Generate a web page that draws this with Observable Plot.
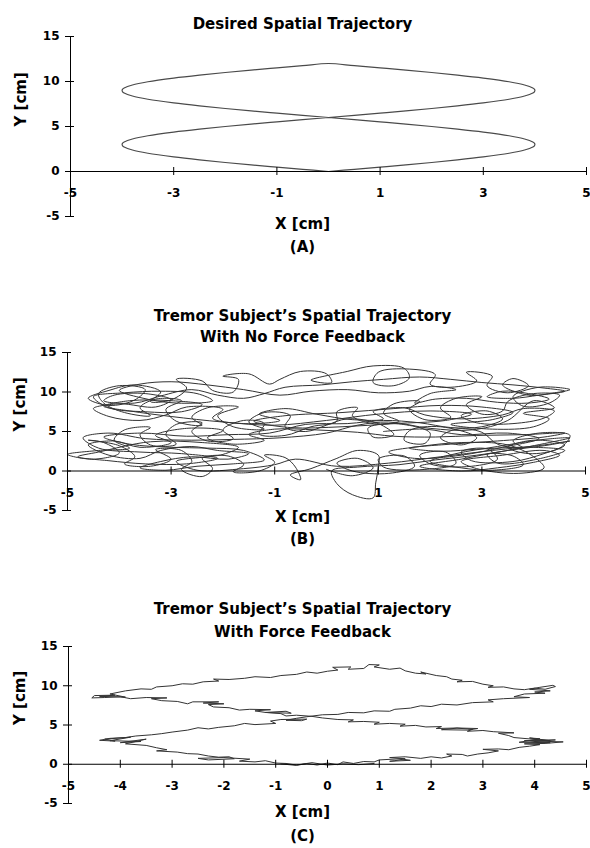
<!DOCTYPE html>
<html><head><meta charset="utf-8">
<script src="https://cdn.jsdelivr.net/npm/d3@7"></script>
<script src="https://cdn.jsdelivr.net/npm/@observablehq/plot@0.6"></script>
<style>
body{margin:0;background:#fff;}
#chart{width:590px;height:848px;overflow:hidden;}
#chart svg{display:block;}
</style></head><body><div id="chart"></div>
<script>
// ---- tick values ----
const xTicksA = [-5, -3, -1, 1, 3, 5];
const xTicksB = [-5, -3, -1, 1, 3, 5];
const xTicksC = [-5, -4, -3, -2, -1, 0, 1, 2, 3, 4, 5];
const yTicks = [-5, 0, 5, 10, 15];

// ---- texts ----
const titleA = ["Desired Spatial Trajectory"];
const titleB = ["Tremor Subject’s Spatial Trajectory", "With No Force Feedback"];
const titleC = ["Tremor Subject’s Spatial Trajectory", "With Force Feedback"];
const xLabel = "X [cm]";
const yLabel = "Y [cm]";
const tags = ["(A)", "(B)", "(C)"];

// ---- (A) desired trajectory, [x, y] in cm ----
const pathA = [
  [0,0],[0.5,0.24],[1,0.48],[1.5,0.73],[2,1.0],[2.5,1.29],[3,1.62],[3.5,2.03],[3.8,2.39],[3.96,2.73],[3.99,2.86],[4,3],
  [3.99,3.14],[3.96,3.27],[3.8,3.61],[3.5,3.97],[3,4.38],[2.5,4.71],[2,5.0],[1.5,5.27],[1,5.52],[0.5,5.76],[0,6],
  [-0.5,6.24],[-1,6.48],[-1.5,6.73],[-2,7.0],[-2.5,7.29],[-3,7.62],[-3.5,8.03],[-3.8,8.39],[-3.96,8.73],[-3.99,8.86],[-4,9],
  [-3.99,9.14],[-3.96,9.27],[-3.8,9.61],[-3.5,9.97],[-3,10.38],[-2.5,10.71],[-2,11.0],[-1.5,11.27],[-1,11.52],[-0.5,11.76],[0,12],
  [0.5,11.76],[1,11.52],[1.5,11.27],[2,11.0],[2.5,10.71],[3,10.38],[3.5,9.97],[3.8,9.61],[3.96,9.27],[3.99,9.14],[4,9],
  [3.99,8.86],[3.96,8.73],[3.8,8.39],[3.5,8.03],[3,7.62],[2.5,7.29],[2,7.0],[1.5,6.73],[1,6.48],[0.5,6.24],[0,6],
  [-0.5,5.76],[-1,5.52],[-1.5,5.27],[-2,5.0],[-2.5,4.71],[-3,4.38],[-3.5,3.97],[-3.8,3.61],[-3.96,3.27],[-3.99,3.14],[-4,3],
  [-3.99,2.86],[-3.96,2.73],[-3.8,2.39],[-3.5,2.03],[-3,1.62],[-2.5,1.29],[-2,1.0],[-1.5,0.73],[-1,0.48],[-0.5,0.24],[0,0]
];

// ---- (B) tremor, no force feedback ----
const pathB = [
  [0.0,0.2],[0.5,-0.6],[0.9,0.4],[0.6,1.6],[0.2,1.0],[0.5,0.0],[1.2,-0.3],[1.7,0.6],[1.5,1.9],[1.0,1.5],[1.1,0.5],[1.9,0.2],[2.5,1.0],[2.3,2.4],[1.8,2.0],[2.0,0.9],[2.8,0.6],[3.3,1.5],[3.1,2.8],[2.6,2.4],[2.8,1.3],[3.6,1.2],[4.2,2.2],[4.6,3.3],[4.0,3.9],[3.5,3.0],[3.9,2.2],[4.5,2.9],[4.7,4.5],
  [4.1,4.8],[3.6,3.8],[3.8,2.9],[3.3,3.4],[3.0,4.9],[2.5,5.3],[2.2,4.2],[2.6,3.3],[2.9,4.2],[2.2,5.6],[1.6,5.1],[1.5,3.9],[1.9,3.5],[2.0,4.8],[1.3,6.0],[0.8,5.4],[0.9,4.3],[1.3,4.6],[1.0,6.0],[0.4,6.6],[0.0,5.8],
  [-0.4,5.0],[-0.8,5.6],[-0.7,7.0],[-1.2,7.4],[-1.5,6.2],[-1.2,5.3],[-1.8,5.6],[-2.1,7.0],[-1.7,8.1],[-2.3,8.0],[-2.6,6.8],[-2.4,5.8],[-2.9,6.3],[-3.1,7.8],[-2.8,8.9],[-3.3,9.1],[-3.6,8.0],[-3.4,7.0],[-3.9,7.4],[-4.3,8.6],[-4.4,9.8],[-4.0,10.8],[-3.5,10.3],[-3.7,9.0],[-4.2,8.3],[-4.6,9.2],[-4.2,10.2],
  [-3.7,10.9],[-3.2,10.0],[-3.4,8.8],[-3.0,9.0],[-2.7,10.5],[-2.9,11.6],[-2.4,11.4],[-2.2,10.2],[-1.8,10.0],[-1.7,11.6],[-2.0,12.0],[-1.5,12.3],[-1.1,11.0],[-0.9,11.6],[-0.5,12.6],[0.0,12.3],[0.1,11.2],[-0.3,11.5],[0.4,12.6],[0.9,13.3],[1.5,13.0],[1.6,11.8],[1.3,10.8],[0.9,11.2],[1.0,12.5],[1.6,12.9],[2.1,12.2],[2.0,11.0],[2.4,10.6],[2.9,11.4],[2.7,12.5],[3.2,12.0],
  [3.1,10.8],[3.5,9.9],[3.9,10.8],[3.6,11.7],[3.4,10.9],[3.9,9.6],[4.4,9.9],[4.7,10.3],[4.1,10.6],[3.6,9.4],[3.8,8.2],[4.3,8.6],[4.5,9.6],[4.0,9.8],
  [3.5,8.8],[3.4,7.6],[3.0,7.2],[2.7,8.4],[3.0,9.4],[2.5,9.2],[2.2,8.0],[2.4,6.8],[1.9,6.5],[1.6,7.8],[1.8,8.8],[1.3,8.5],[1.1,7.3],[1.4,6.3],[0.9,6.0],[0.5,7.0],[0.6,8.0],[0.2,7.5],[0.2,6.3],
  [-0.3,5.6],[-0.8,4.5],[-1.3,4.7],[-1.2,6.0],[-1.6,6.4],[-2.0,5.2],[-1.8,4.1],[-2.3,3.8],[-2.6,5.0],[-2.4,6.1],[-2.9,5.9],[-3.1,4.6],[-2.9,3.4],[-3.4,3.3],[-3.6,4.6],[-3.4,5.5],[-3.9,5.2],[-4.1,3.9],[-3.8,2.9],[-4.4,2.6],[-5.0,2.1],[-4.5,1.5],[-4.0,2.3],[-4.3,3.6],[-4.6,3.9],
  [-4.0,3.2],[-3.7,1.8],[-3.9,0.9],[-3.4,0.6],[-3.0,1.5],[-3.3,2.7],[-2.8,2.6],[-2.6,1.2],[-2.8,0.2],[-2.4,-0.7],[-2.2,0.3],[-2.4,1.6],[-1.9,1.9],[-1.6,0.8],[-1.8,-0.1],[-1.3,0.0],[-1.0,1.1],[-1.2,2.0],[-0.8,1.7],[-0.6,0.5],[-0.5,-1.1],[-0.7,-0.5],[-0.3,0.3],
  [0.2,1.6],[0.6,2.6],[1.0,2.0],[1.0,0.5],[0.95,-1.5],[0.9,-3.4],[0.5,-3.0],[0.2,-1.6],[0.1,0.0],[0.6,0.5],
  [1.4,0.8],[2.1,1.4],[2.9,2.0],[3.5,2.6],[4.3,3.6],[4.7,4.2],[4.2,4.0],[3.3,3.1],[2.5,2.2],[2.0,1.2],[2.6,0.4],[3.2,0.1],[3.8,0.8],[3.6,1.9],[3.1,2.1],[3.3,1.0],[4.0,1.4],[4.6,2.6],[4.0,3.0],[3.0,2.8],[2.2,2.5],[1.6,2.9],[2.4,3.4],[3.3,3.8],[4.2,4.3],[4.6,4.8],[3.8,4.6],[2.9,4.5],[2.1,4.3],
  [1.3,4.4],[0.6,4.9],[-0.2,5.2],[-1.0,5.3],[-1.5,4.6],[-1.2,3.9],[-1.8,3.4],[-2.3,4.2],[-2.0,5.1],[-2.7,5.4],[-3.3,4.5],[-3.0,3.6],[-3.6,3.0],[-4.1,3.8],[-4.6,3.3],[-4.2,2.0],[-3.6,1.6],[-3.2,2.6],[-2.6,3.1],[-2.1,2.6],[-1.5,2.2],[-1.9,1.5],[-2.6,1.8],[-3.2,1.2],[-3.6,0.4],[-3.1,0.1],[-2.5,0.6],[-1.8,0.9],[-1.2,1.4],[-1.6,2.6],[-2.3,2.9],[-3.0,3.0],[-3.8,3.4],[-4.3,4.3],[-3.6,4.8],[-2.7,4.4],[-1.9,4.6],[-1.1,4.8],
  [-0.4,5.9],[0.4,6.0],[1.1,6.4],[1.8,6.1],[2.4,5.5],[3.0,5.6],[3.4,6.6],[3.1,7.6],[2.6,7.0],[2.9,6.1],[3.6,6.0],[4.2,6.7],[4.4,7.6],[3.8,7.9],[3.4,7.1],[2.6,6.6],[1.9,7.1],[1.5,8.0],[0.9,7.5],[1.1,6.6],[0.5,6.5],[-0.2,7.2],[-0.8,7.9],[-1.3,7.2],[-0.9,6.4],[-1.6,6.0],[-2.2,6.7],[-2.0,7.8],[-2.7,8.1],[-3.1,7.1],[-3.6,6.4],[-4.2,6.9],[-4.5,7.9],[-4.0,8.5],[-3.3,8.1],
  [-3.0,9.0],[-3.5,9.8],[-4.1,9.6],[-4.3,8.9],[-3.7,8.6],[-3.2,9.5],[-2.6,10.3],[-2.1,9.6],[-1.6,9.2],[-1.2,9.8],[-0.8,10.6],[-0.1,10.9],[0.5,11.3],[1.1,11.6],[1.8,11.9],[2.4,11.6],[3.0,11.2],[3.6,10.9],[4.2,10.5],[4.6,10.1],[4.1,9.6],[3.6,9.2],[3.1,9.4],[3.4,10.1],[3.9,9.8],[4.3,9.1],[3.9,8.6],[3.3,8.7],[2.7,9.2],[2.1,9.1],[1.7,8.6],[2.0,9.8],[2.5,10.3],[2.0,10.7],[1.6,10.1],
  [1.0,9.9],[0.4,10.3],[-0.3,10.1],[-0.9,9.6],[-1.6,10.3],[-2.3,10.9],[-3.0,11.3],[-3.6,11.0],[-4.0,10.2],[-3.6,9.3],[-2.9,8.6],[-2.2,8.9],[-2.5,9.8],[-3.2,10.1],[-3.9,9.9],[-4.5,9.4],[-4.2,8.0],[-3.5,7.5],[-2.8,7.5],[-2.4,8.4],[-3.0,8.9],[-3.8,8.9],[-4.3,8.2],[-3.8,7.6],
  [-3.0,6.9],[-2.0,6.2],[-1.0,5.8],[0.0,6.4],[1.0,7.2],[2.0,7.6],[2.8,7.2],[2.3,6.4],[1.3,6.0],[0.3,5.6],[-0.7,5.5],[-1.4,6.3],[-0.8,7.0],[0.3,7.4],[1.3,7.9],[2.2,8.3],[3.0,8.1],[3.6,7.4],[3.2,6.5],[2.4,5.9],[3.2,5.3],[4.0,5.6],[4.3,6.6],[3.8,7.3],[4.4,8.0],[4.0,8.9],
  [3.5,6.4],[2.8,5.2],[2.0,5.4],[1.2,6.2],[0.6,5.8],[0.0,4.8],[-0.9,4.2],[-1.8,4.0],[-2.6,3.9],[-3.5,4.1],[-4.2,4.8],[-4.7,4.2],[-4.4,2.9],[-3.6,2.4],[-2.8,2.2],[-2.1,1.6],[-2.7,0.9],[-3.5,0.9],[-4.2,1.3],[-4.8,1.8],[-4.4,2.4],[-3.4,3.7],[-2.4,3.6],[-1.7,3.0],[-2.0,2.1],[-2.9,1.2],[-2.5,0.1],[-1.6,0.3],[-1.0,0.8],[-0.6,1.5],
  [0.2,0.6],[1.2,1.0],[2.2,1.8],[3.2,2.6],[4.2,3.3],[4.7,3.8],[4.3,3.3],[3.4,2.5],[2.6,1.5],[1.8,0.6],[2.6,0.0],[3.3,0.4],[4.0,1.1],[4.5,2.0],[4.2,2.6],[3.4,2.0],[2.6,1.2],[2.9,0.3],[3.7,-0.3],[4.2,0.4],[4.0,1.8],[3.5,3.3],[2.6,3.6],[1.8,3.1],[1.2,2.4],[1.7,1.6],[2.6,2.0],[3.4,3.0],[4.1,4.1],[3.5,4.8],[2.6,4.6],[1.9,5.3],[1.1,5.0]
];

// ---- (C) tremor, with force feedback ----
const pathC = [
  [-0.9,0.05],[-0.6,-0.15],[-0.4,0.1],[-0.2,-0.1],[0.0,0.15],[0.2,-0.05],[0.3,0.3],[0.5,0.1],[0.7,0.35],[0.9,0.3],[1.0,0.55],[1.4,0.7],[1.6,0.5],[1.2,0.38],[1.3,0.45],[1.5,0.7],[1.2,0.85],[1.5,0.95],[1.8,0.75],[2.0,0.95],[2.2,0.8],[2.4,1.05],[2.3,1.3],[2.6,1.25],[2.7,1.05],[2.9,1.3],[3.1,1.45],[3.3,1.7],[3.0,1.9],[3.3,1.95],[3.5,1.85],[3.7,2.15],[3.9,2.3],[4.1,2.5],[3.8,2.6],[4.2,2.65],[4.55,2.85],
  [4.0,2.95],[4.4,3.1],[3.8,3.0],[4.3,2.75],[3.7,2.8],[4.1,3.25],[3.9,3.35],[4.3,3.0],[3.6,3.4],
  [3.5,3.65],[3.3,3.95],[3.6,4.0],[3.2,4.15],[3.0,4.3],[2.7,4.2],[2.8,4.45],[2.5,4.6],[2.2,4.4],[2.7,4.35],[2.9,4.55],[2.5,4.62],[2.1,4.55],[2.2,4.8],[1.9,4.75],[1.7,4.95],[1.4,4.85],[1.5,5.1],[1.2,5.2],[0.9,5.1],[1.0,5.35],[0.7,5.45],[0.4,5.4],[0.5,5.65],[0.2,5.7],[-0.1,5.9],[-0.3,6.1],
  [-0.6,6.25],[-0.8,6.15],[-0.9,6.45],[-1.2,6.6],[-0.8,6.75],[-0.7,6.5],[-1.2,6.6],[-1.4,6.8],[-1.1,6.95],[-1.5,7.0],[-1.7,6.9],[-1.9,7.2],[-2.2,7.3],[-2.3,7.6],[-2.0,7.7],[-2.4,7.8],[-2.1,7.95],[-2.6,7.95],[-2.7,7.7],[-2.9,8.0],[-3.2,8.1],[-3.4,8.35],[-3.1,8.45],[-3.5,8.5],[-3.8,8.35],[-4.0,8.6],[-4.3,8.5],[-4.55,8.45],[-4.5,8.75],[-4.1,8.8],[-4.4,8.65],[-3.9,8.55],[-4.2,8.95],
  [-3.9,9.35],[-3.6,9.6],[-3.4,9.55],[-3.3,9.85],[-3.0,10.0],[-2.8,10.25],[-2.6,10.2],[-2.4,10.5],[-2.1,10.6],[-2.2,10.85],[-1.9,10.8],[-1.6,10.95],[-1.4,11.15],[-1.1,11.05],[-0.9,11.3],[-0.6,11.45],[-0.4,11.75],[-0.2,11.6],[0.0,11.85],[0.2,12.0],[0.1,12.35],[0.45,12.4],[0.4,12.1],[0.7,12.2],[0.8,12.7],[1.0,12.65],[0.9,12.4],[1.2,12.1],
  [1.4,12.25],[1.5,11.9],[1.7,11.6],[1.9,11.5],[1.8,11.75],[2.1,11.3],[2.3,11.15],[2.4,10.85],[2.6,10.7],[2.5,10.5],[2.8,10.55],[3.0,10.2],[3.2,10.0],[3.1,9.8],[3.4,9.85],[3.6,9.6],[3.8,9.5],[4.0,9.7],[4.2,9.55],[4.4,9.9],[4.35,10.05],[4.1,9.8],[3.9,9.55],[4.3,9.35],
  [4.0,9.2],[4.2,9.05],[3.8,8.95],[3.6,8.6],[3.9,8.5],[3.4,8.35],[3.1,8.2],[3.2,7.95],[2.8,7.85],[2.5,7.55],[2.2,7.65],[2.0,7.35],[1.8,7.45],[1.6,7.15],[1.3,7.0],[1.2,6.75],[0.9,6.8],[0.7,6.55],[0.4,6.6],[0.2,6.35],[-0.1,6.3],[-0.4,6.05],
  [-0.6,5.85],[-0.8,5.6],[-0.5,5.55],[-0.4,5.75],[-0.9,5.7],[-1.1,5.5],[-1.0,5.2],[-1.4,5.05],[-1.6,5.2],[-1.8,4.9],[-2.1,4.7],[-2.3,4.5],[-2.5,4.65],[-2.7,4.35],[-3.0,4.1],[-3.2,3.9],[-3.4,3.75],[-3.7,3.6],[-3.9,3.4],[-4.2,3.3],[-4.4,3.05],
  [-4.1,2.95],[-4.3,3.2],[-3.8,3.45],[-4.2,3.0],[-3.6,2.9],[-4.0,2.75],[-3.5,3.2],[-3.9,2.6],
  [-3.5,2.4],[-3.3,2.1],[-3.1,1.85],[-3.3,1.7],[-2.9,1.55],[-2.7,1.35],[-2.5,1.3],[-2.3,1.05],[-2.1,0.9],[-1.9,0.95],[-1.8,0.7],[-2.3,0.55],[-2.5,0.75],[-2.0,0.85],[-1.5,0.65],[-1.7,0.4],[-1.4,0.3],[-1.2,0.45],[-1.0,0.15],[-0.8,0.1],[-0.6,-0.1],[-0.3,0.2],[0.0,-0.1],[0.3,0.05],[0.6,-0.05],[0.9,0.1]
];

const FONT = "DejaVu Sans";
const W = 590;
const CENTER_X = 302;

function panel(cfg) {
  const {path, xTicks, title, tag, height, mt, mb, ml, mr, titleYs, xlabY, tagY, ylabX, stroke, sw, curve} = cfg;
  const frameCX = ml + (W - ml - mr) / 2;
  const cx = CENTER_X - frameCX;
  const bold = {fontWeight: "bold", fontFamily: FONT, fill: "#000"};
  const marks = [
    Plot.line(path, {x: d => d[0], y: d => d[1], stroke, strokeWidth: sw, curve}),
    Plot.ruleY([0], {stroke: "#000", strokeWidth: 1}),
    Plot.ruleX([-5], {y1: -5, y2: 15, stroke: "#000", strokeWidth: 1}),
    Plot.ruleX(xTicks, {x: d => d, y1: 0, y2: 0, insetTop: -4, insetBottom: -4, stroke: "#000"}),
    Plot.ruleY(yTicks, {y: d => d, x1: -5, x2: -5, insetLeft: -5, insetRight: -4, stroke: "#000"}),
    Plot.text(xTicks, {x: d => d, y: 0, dy: 22, text: d => String(d), fontSize: 12, ...bold}),
    Plot.text(yTicks, {x: -5, y: d => d, dx: -11, textAnchor: "end", text: d => String(d), fontSize: 12, ...bold}),
    ...title.map((t, i) => Plot.text([t], {frameAnchor: "top", dx: cx, dy: titleYs[i] - mt, fontSize: 15, ...bold})),
    Plot.text([xLabel], {frameAnchor: "bottom", dx: cx, dy: xlabY - (height - mb), fontSize: 15, ...bold}),
    Plot.text([tag], {frameAnchor: "bottom", dx: cx, dy: tagY - (height - mb), fontSize: 15, ...bold}),
    Plot.text([yLabel], {frameAnchor: "left", dx: ylabX - ml, rotate: -90, fontSize: 15, ...bold})
  ];
  return Plot.plot({
    width: W, height,
    marginTop: mt, marginBottom: mb, marginLeft: ml, marginRight: mr,
    x: {domain: [-5, 5], axis: null},
    y: {domain: [-5, 15], axis: null},
    style: {background: "#fff", overflow: "visible"},
    marks
  });
}

const root = document.getElementById("chart");
root.append(panel({path: pathA, xTicks: xTicksA, title: titleA, tag: tags[0], height: 290,
  mt: 36, mb: 74, ml: 70, mr: 4, titleYs: [18], xlabY: 228, tagY: 251, ylabX: 21, stroke: "#4a4a4a", sw: 1.2, curve: "catmull-rom"}));
root.append(panel({path: pathB, xTicks: xTicksB, title: titleB, tag: tags[1], height: 290,
  mt: 62, mb: 70, ml: 67, mr: 5, titleYs: [20, 41], xlabY: 231, tagY: 253, ylabX: 20, stroke: "#333333", sw: 1, curve: "catmull-rom"}));
root.append(panel({path: pathC, xTicks: xTicksC, title: titleC, tag: tags[2], height: 268,
  mt: 66, mb: 45, ml: 68, mr: 4, titleYs: [23, 46], xlabY: 236, tagY: 260, ylabX: 20, stroke: "#333333", sw: 1, curve: "linear"}));
</script></body></html>
